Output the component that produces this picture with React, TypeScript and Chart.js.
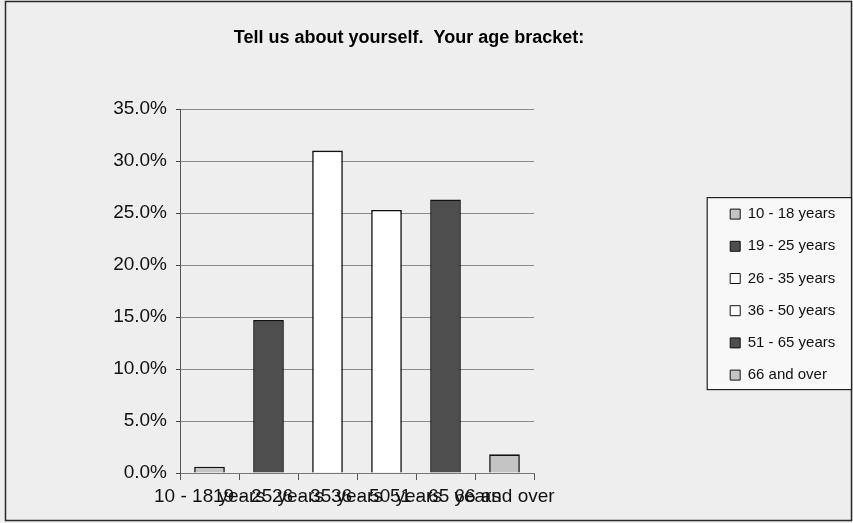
import React, { useEffect, useRef } from "react";
import { Chart, registerables } from "chart.js";

Chart.register(...registerables);

const titleText = "Tell us about yourself.  Your age bracket:";
const categories = [
  "10 - 18 years",
  "19 - 25 years",
  "26 - 35 years",
  "36 - 50 years",
  "51 - 65 years",
  "66 and over",
];
const shares = [0.6, 14.7, 31.0, 25.3, 26.3, 1.8];
const barColors = ["#c4c4c4", "#4e4e4e", "#ffffff", "#ffffff", "#4e4e4e", "#c4c4c4"];
const yTicks = [0, 5, 10, 15, 20, 25, 30, 35];

const FONT = "'Liberation Sans', Arial, sans-serif";
const LEGEND_FONT_SIZE = 15;
const LEGEND_PAD = 17.2;
const LEGEND_BOX = 10;

const framePlugin = {
  id: "framePlugin",
  beforeDraw(chart: any) {
    const ctx = chart.ctx;
    const w = chart.width;
    const h = chart.height;
    ctx.save();
    ctx.fillStyle = "#eeeeee";
    ctx.fillRect(0, 0, w, h);
    ctx.strokeStyle = "#2a2a2a";
    ctx.lineWidth = 1.5;
    ctx.strokeRect(5.5, 1.5, w - 7, h - 4);
    const hb = chart.legend && chart.legend.legendHitBoxes;
    if (hb && hb.length) {
      const first = hb[0];
      const last = hb[hb.length - 1];
      const left = first.left - 23;
      const top = first.top - 9;
      const right = w - 1.5;
      const bottom = last.top + last.height + 7;
      ctx.fillStyle = "#f8f8f8";
      ctx.fillRect(left, top, right - left, bottom - top);
      ctx.strokeStyle = "#222";
      ctx.lineWidth = 1.2;
      ctx.strokeRect(left, top, right - left, bottom - top);
    }
    ctx.restore();
  },
};

export default function App() {
  const ref = useRef<HTMLCanvasElement | null>(null);
  useEffect(() => {
    if (!ref.current) return;
    const mctx = document.createElement("canvas").getContext("2d") as CanvasRenderingContext2D;
    mctx.font = `${LEGEND_FONT_SIZE}px ${FONT}`;
    const tw = Math.max(...categories.map((t) => mctx.measureText(t).width));
    const legendW = LEGEND_PAD + LEGEND_BOX + LEGEND_FONT_SIZE / 2 + tw + 10;
    const legendLeft = 713;
    const padRight = Math.max(0, 853 - legendLeft - legendW);
    const padLeft = padRight - 35;
    const plotLeft = 180;
    const plotRight = 534;

    const chart = new Chart(ref.current, {
      type: "bar",
      data: {
        labels: categories,
        datasets: [
          {
            data: shares,
            backgroundColor: barColors,
            borderColor: "#111",
            borderWidth: 1.6,
            categoryPercentage: 1,
            barPercentage: 0.52,
          },
        ],
      },
      options: {
        responsive: false,
        animation: false,
        layout: { padding: { left: padLeft, right: padRight, top: 0, bottom: 0 } },
        plugins: {
          title: {
            display: true,
            text: titleText,
            color: "#000",
            font: { family: FONT, size: 18, weight: "bold" },
            padding: { top: 27, bottom: 60.4 },
          },
          legend: {
            display: true,
            position: "right",
            fullSize: false,
            title: { display: true, text: "", font: { size: 1 }, padding: { top: 3, bottom: 3 } },
            labels: {
              boxWidth: LEGEND_BOX,
              boxHeight: LEGEND_BOX,
              padding: LEGEND_PAD,
              color: "#111",
              font: { family: FONT, size: LEGEND_FONT_SIZE },
              generateLabels: () =>
                categories.map((c, i) => ({
                  text: c,
                  fillStyle: barColors[i],
                  strokeStyle: "#111",
                  fontColor: "#111",
                  lineWidth: 1,
                  hidden: false,
                  index: i,
                  datasetIndex: 0,
                })),
            },
          },
          tooltip: { enabled: false },
        },
        scales: {
          x: {
            grid: {
              display: true,
              drawOnChartArea: false,
              drawTicks: true,
              tickLength: 7,
              tickColor: "#555",
              offset: true,
            },
            border: { display: true, color: "#777", width: 1 },
            ticks: {
              autoSkip: false,
              maxRotation: 0,
              minRotation: 0,
              padding: 5,
              color: "#111",
              font: { family: FONT, size: 19 },
            },
            afterFit: (s: any) => {
              s.height = 50;
            },
          },
          y: {
            min: 0,
            max: 35,
            afterBuildTicks: (s: any) => {
              s.ticks = yTicks.map((v) => ({ value: v }));
            },
            grid: {
              color: "#8a8a8a",
              lineWidth: 1,
              drawTicks: true,
              tickLength: 4,
              tickColor: "#444",
            },
            border: { display: true, color: "#555", width: 1 },
            ticks: {
              padding: 9,
              color: "#111",
              font: { family: FONT, size: 19 },
              callback: (v: any) => Number(v).toFixed(1) + "%",
            },
            afterFit: (s: any) => {
              s.width = plotLeft - padLeft;
            },
          },
          gap: {
            type: "linear",
            position: "right",
            display: true,
            grid: { display: false, drawTicks: false },
            ticks: { display: false },
            border: { display: false },
            afterFit: (s: any) => {
              s.width = legendLeft - plotRight;
            },
          },
        },
      } as any,
      plugins: [framePlugin],
    });
    return () => chart.destroy();
  }, []);
  return (
    <div style={{ position: "fixed", left: 0, top: 0, width: 853, height: 523 }}>
      <canvas ref={ref} width={853} height={523} style={{ display: "block" }} />
    </div>
  );
}
